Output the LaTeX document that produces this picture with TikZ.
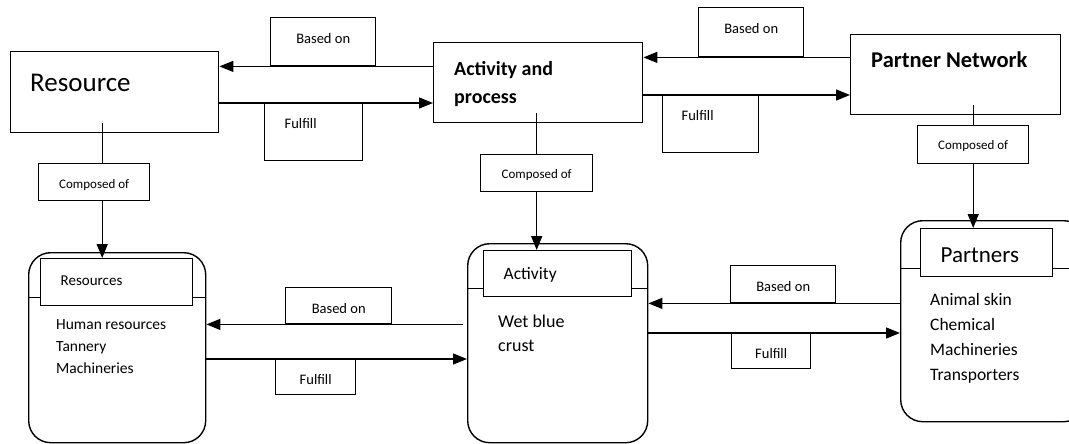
\documentclass[tikz,border=0pt]{standalone}
\usepackage{fontspec}
\setmainfont{Carlito}
\usepackage{tikz}
\usetikzlibrary{arrows.meta,positioning}
\tikzstyle{block} = [rectangle, draw, line width=1.4pt, inner sep=0pt, anchor=north west]
\tikzstyle{tag} = [rectangle, draw, line width=1.4pt, inner sep=0pt, anchor=north west, font=\fontsize{14.5}{17}\selectfont]
\tikzstyle{comp} = [tag, font=\fontsize{13}{15}\selectfont]
\tikzstyle{store} = [rectangle, draw, line width=1.4pt, rounded corners=22pt, inner sep=0pt, anchor=north west]
\tikzstyle{head} = [rectangle, draw, line width=1.4pt, anchor=north west, inner ysep=0pt, inner xsep=20pt, align=left]
\tikzstyle{items} = [anchor=north west, inner sep=0pt, align=left]
\tikzstyle{line} = [draw, line width=1.4pt, -{Triangle[length=14pt,width=11pt]}]
\tikzstyle{plain} = [draw, line width=1.4pt]

\begin{document}
\begin{tikzpicture}[x=1pt,y=-1pt]
  \useasboundingbox (0,0) rectangle (1069,444);

  % top row
  \node [block, minimum width=208pt, minimum height=81pt] (res) at (10,51) {};
  \node [anchor=base west, inner sep=0pt, font=\fontsize{27}{30}\selectfont] (resT) at (30,92) {Resource};
  \node [block, minimum width=209pt, minimum height=80pt] (act) at (433,42) {};
  \node [items, font=\fontsize{20}{28}\selectfont\bfseries] (actT) at (454,61) {Activity and\\process};
  \node [block, minimum width=210pt, minimum height=80pt] (pn) at (850,34) {};
  \node [anchor=base west, inner sep=0pt, font=\fontsize{22.5}{26}\selectfont\bfseries] (pnT) at (871,68) {Partner Network};

  \node [tag, minimum width=105pt, text height=26pt, text depth=22pt] (bo1) at (270,17) {Based on};
  \node [tag, text width=58pt, inner xsep=20pt, align=left, text height=25pt, text depth=32pt] (fu1) at (264,103) {Fulfill};
  \node [tag, minimum width=105pt, text height=26pt, text depth=23pt] (bo2) at (698,7) {Based on};
  \node [tag, text width=58pt, inner xsep=19pt, align=left, text height=25pt, text depth=32pt] (fu2) at (662,95) {Fulfill};

  \node [comp, minimum width=111pt, text height=25pt, text depth=12pt] (co1) at (38,163) {Composed of};
  \node [comp, minimum width=112pt, text height=24pt, text depth=13pt] (co2) at (480,154) {Composed of};
  \node [comp, minimum width=111pt, text height=24pt, text depth=14pt] (co3) at (917,125) {Composed of};

  % bottom row
  \node [store, minimum width=177pt, minimum height=190pt] (rs) at (28,252) {};
  \node [head, text width=112pt, text height=27pt, text depth=20pt, font=\fontsize{15}{18}\selectfont] (rsH) at (40,258) {Resources};
  \node [items, font=\fontsize{15.5}{22}\selectfont] (rsI) at (56,319) {Human resources\\Tannery\\Machineries};

  \node [store, minimum width=180pt, minimum height=199pt] (ac) at (467,243) {};
  \node [head, text width=108pt, text height=29pt, text depth=17pt, font=\fontsize{17.5}{21}\selectfont] (acH) at (483,250) {Activity};
  \node [items, font=\fontsize{18}{24}\selectfont] (acI) at (498,315) {Wet blue\\crust};

  \node [store, minimum width=185pt, minimum height=201pt] (pt) at (900,220) {};
  \node [head, text width=92pt, text height=34pt, text depth=14pt, font=\fontsize{23}{27}\selectfont] (ptH) at (920,228) {Partners};
  \node [items, font=\fontsize{17.5}{25}\selectfont] (ptI) at (930,293) {Animal skin\\Chemical\\Machineries\\Transporters};

  \coordinate (rsD) at ([yshift=9pt]rsH.south west);
  \coordinate (acD) at ([yshift=9pt]acH.south west);
  \coordinate (ptD) at ([yshift=9pt]ptH.south west);
  \path [plain] (rsD -| rs.west) -- (rsD) (rsD -| rsH.east) -- (rsD -| rs.east);
  \path [plain] (acD -| ac.west) -- (acD) (acD -| acH.east) -- (acD -| ac.east);
  \path [plain] (ptD -| pt.west) -- (ptD) (ptD -| ptH.east) -- (ptD -| pt.east);

  \node [tag, minimum width=106pt, text height=26pt, text depth=10pt] (bo3) at (285,287) {Based on};
  \node [tag, minimum width=80pt, text height=25pt, text depth=10pt] (fu3) at (275,359) {Fulfill};
  \node [tag, minimum width=105pt, text height=26pt, text depth=11pt] (bo4) at (730,265) {Based on};
  \node [tag, minimum width=79pt, text height=25pt, text depth=10pt] (fu4) at (731,333) {Fulfill};

  % connectors
  \path [line] (act.west |- bo1.south) -- (res.east |- bo1.south);
  \path [line] (res.east |- fu1.north) -- (act.west |- fu1.north);
  \path [line] (pn.west |- bo2.south) -- (act.east |- bo2.south);
  \path [line] (act.east |- fu2.north) -- (pn.west |- fu2.north);

  \path [plain, shorten <=-10pt] ([xshift=8pt]co1.north |- res.south) -- ([xshift=8pt]co1.north);
  \path [line] ([xshift=8pt]co1.south) -- ([xshift=8pt]co1.south |- rsH.north);
  \path [plain, shorten <=-10pt] (co2.north |- act.south) -- (co2.north);
  \path [line] (co2.south) -- (co2.south |- acH.north);
  \path [plain, shorten <=-10pt] (co3.north |- pn.south) -- (co3.north);
  \path [line] (co3.south) -- (co3.south |- ptH.north);

  \path [line, shorten <=4pt] (ac.west |- bo3.south) -- (rs.east |- bo3.south);
  \path [line] (rs.east |- fu3.north) -- (ac.west |- fu3.north);
  \path [line] (pt.west |- bo4.south) -- (ac.east |- bo4.south);
  \path [line] (ac.east |- fu4.north) -- (pt.west |- fu4.north);
\end{tikzpicture}
\end{document}
